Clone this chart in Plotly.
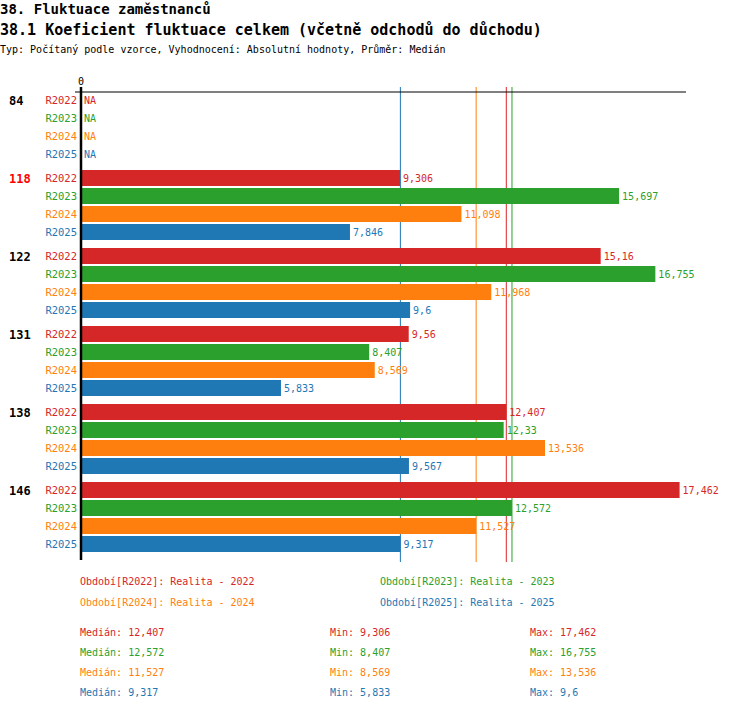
#!/usr/bin/env python
'''Koeficient fluktuace celkem - horizontal grouped bars by workplace.'''

import numpy as np
import plotly.graph_objects as go

groups = ['84', '118', '122', '131', '138', '146']
highlight = '118'
periods = ['R2022', 'R2023', 'R2024', 'R2025']
period_names = ['Realita - 2022', 'Realita - 2023', 'Realita - 2024', 'Realita - 2025']
colors = ['#d62728', '#2ca02c', '#ff7f0e', '#1f77b4']

r2022 = [None, 9.306, 15.16, 9.56, 12.407, 17.462]
r2023 = [None, 15.697, 16.755, 8.407, 12.33, 12.572]
r2024 = [None, 11.098, 11.968, 8.569, 13.536, 11.527]
r2025 = [None, 7.846, 9.6, 5.833, 9.567, 9.317]
series = [r2022, r2023, r2024, r2025]

FONT = 'DejaVu Sans Mono'
W, H = 750, 710
L, R, T, B = 81, 64, 92, 148
PW, PH = W - L - R, H - T - B
ROW = 18.0
GAP = 6.0 / ROW


def px_x(px):
    '''figure pixel -> paper x (minus annotation padding)'''
    return (px - 2 - L) / PW


def px_y(py):
    '''figure pixel -> paper y'''
    return (H - B - py) / PH


def fmt(v):
    '''czech decimal comma, no trailing zeros'''
    return f'{v:.3f}'.rstrip('0').rstrip('.').replace('.', ',')


def ypos(g, p):
    return g * (len(periods) + GAP) + p


fig = go.Figure()
ann = []
tickvals, ticktext = [], []
for p, (per, vals, col) in enumerate(zip(periods, series, colors)):
    ys = [ypos(g, p) for g in range(len(groups))]
    fig.add_trace(go.Bar(
        x=vals, y=ys, orientation='h', width=16 / ROW,
        marker=dict(color=col, line=dict(width=0)),
        text=[fmt(v) if v is not None else '' for v in vals],
        textposition='outside', constraintext='none', cliponaxis=False,
        textfont=dict(family=FONT, size=10, color=col),
    ))
    for y, v in zip(ys, vals):
        if v is None:
            ann.append(dict(text='NA', xref='x', yref='y', x=0, y=y, xshift=1,
                            xanchor='left', yanchor='middle', showarrow=False,
                            font=dict(family=FONT, size=10, color=col)))
    for y in ys:
        tickvals.append(y)
        ticktext.append(f'<span style="color:{col}">{per}</span>')

# median lines
for vals, col in zip(series, colors):
    med = float(np.median([v for v in vals if v is not None]))
    fig.add_shape(type='line', xref='x', yref='paper', x0=med, x1=med,
                  y0=px_y(87), y1=0, line=dict(color=col, width=1), layer='below')

# axis frame
fig.add_shape(type='line', xref='paper', yref='paper', x0=(75 - L) / PW, x1=1,
              y0=1, y1=1, line=dict(color='black', width=1))
fig.add_shape(type='line', xref='paper', yref='paper', x0=0, x1=0,
              y0=px_y(87), y1=px_y(560), line=dict(color='black', width=2.5))

txt = []
# titles
txt.append(dict(text='<b>38. Fluktuace zaměstnanců</b>', x=px_x(0), y=px_y(9),
                font=dict(family=FONT, size=14, color='black')))
txt.append(dict(text='<b>38.1 Koeficient fluktuace celkem (včetně odchodů do důchodu)</b>',
                x=px_x(0), y=px_y(30), font=dict(family=FONT, size=15, color='black')))
txt.append(dict(text='Typ: Počítaný podle vzorce, Vyhodnocení: Absolutní hodnoty, Průměr: Medián',
                x=px_x(0), y=px_y(50), font=dict(family=FONT, size=10, color='black')))

# group labels
for g, name in enumerate(groups):
    c = 'red' if name == highlight else 'black'
    txt.append(dict(text=f'<b>{name}</b>', x=px_x(9), y=px_y(101 + g * 78),
                    font=dict(family=FONT, size=12, color=c)))

# period legend
for p, (per, nm, col) in enumerate(zip(periods, period_names, colors)):
    txt.append(dict(text=f'Období[{per}]: {nm}', x=px_x(80 + 300 * (p % 2)),
                    y=px_y(581 + 21 * (p // 2)),
                    font=dict(family=FONT, size=10, color=col)))

# stats
for p, (vals, col) in enumerate(zip(series, colors)):
    v = [x for x in vals if x is not None]
    stats = [('Medián', float(np.median(v)), 80), ('Min', min(v), 330), ('Max', max(v), 530)]
    for lab, val, xp in stats:
        txt.append(dict(text=f'{lab}: {fmt(val)}', x=px_x(xp), y=px_y(632 + 20 * p),
                        font=dict(family=FONT, size=10, color=col)))

for a in txt:
    a.update(xref='paper', yref='paper', xanchor='left', yanchor='middle',
             showarrow=False)
ann += txt

fig.update_layout(
    width=W, height=H, margin=dict(l=L, r=R, t=T, b=B, pad=0),
    paper_bgcolor='white', plot_bgcolor='white',
    showlegend=False, hovermode=False, barmode='overlay',
    annotations=ann,
    font=dict(family=FONT, size=10, color='black'),
    xaxis=dict(range=[0, PW / 34.28], side='top', tickvals=[0], ticktext=['0'],
               showgrid=False, zeroline=False, showline=False, ticks='',
               ticklabelstandoff=4,
               tickfont=dict(family=FONT, size=10, color='black')),
    yaxis=dict(range=[(PH - 8) / ROW, -8 / ROW], tickvals=tickvals, ticktext=ticktext,
               showgrid=False, zeroline=False, showline=False, ticks='',
               ticklabelstandoff=3,
               tickfont=dict(family=FONT, size=10.5)),
)

fig.write_html('out.html', config={'displayModeBar': False},
               post_script="document.body.style.margin='0';")
